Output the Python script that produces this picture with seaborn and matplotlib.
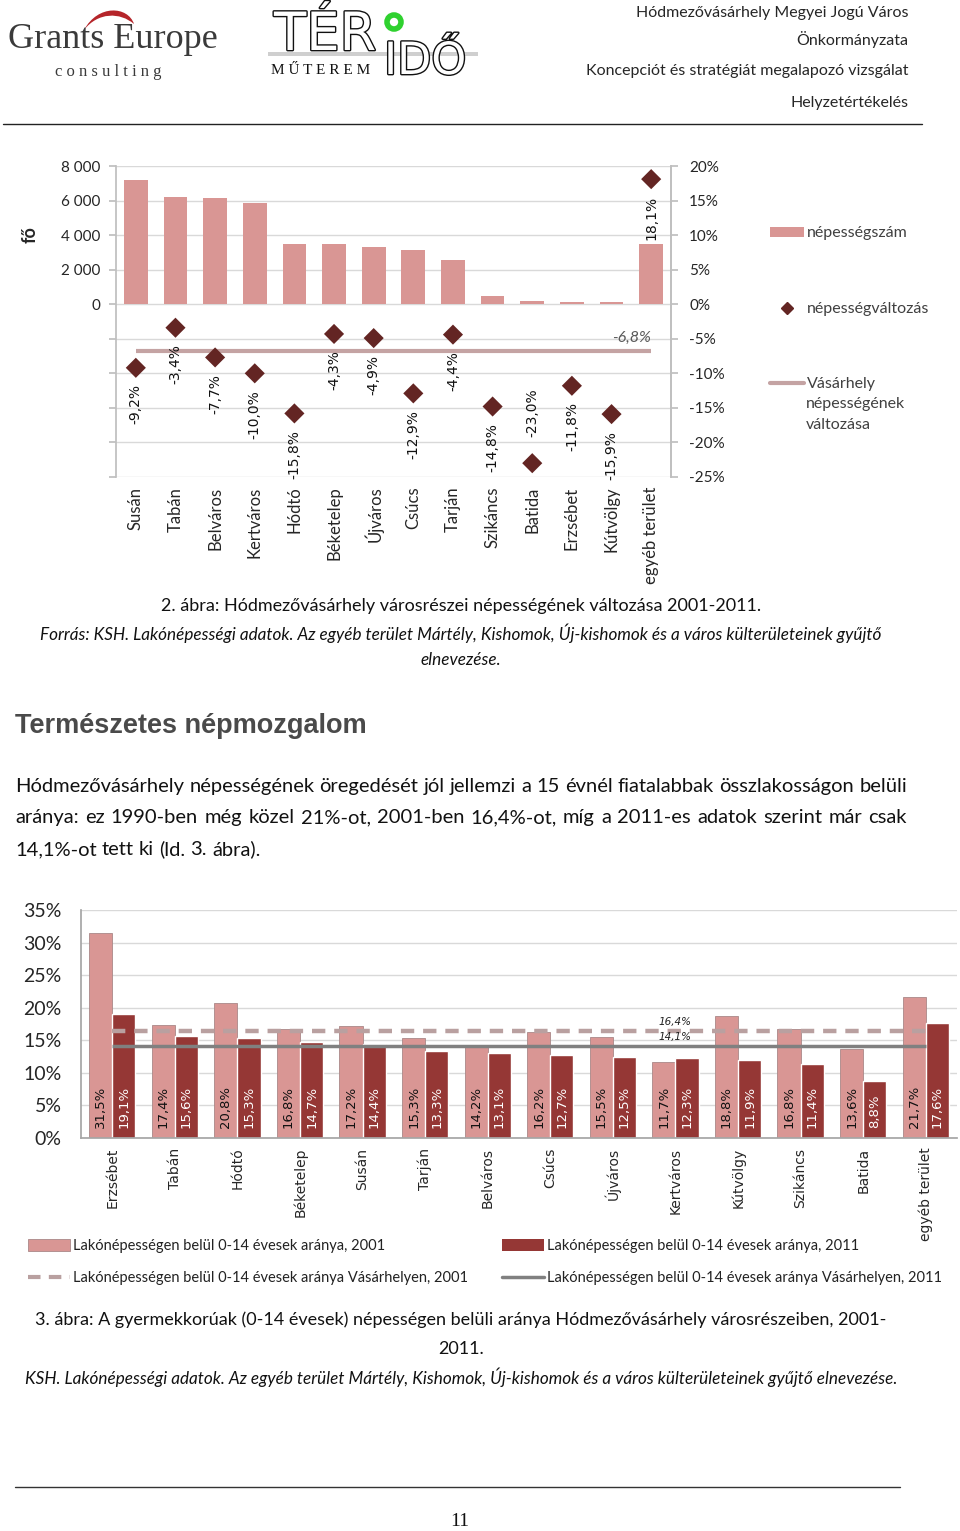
import numpy as np
import pandas as pd
import matplotlib
matplotlib.use("Agg")
import matplotlib.pyplot as plt
import seaborn as sns
import matplotlib.patheffects as pe
from matplotlib.lines import Line2D
from matplotlib.patches import Patch, Ellipse, PathPatch, Rectangle
from matplotlib.path import Path

# ---- data: figure 2 (population and change 2001-2011) ----
districts_1 = ["Susán", "Tabán", "Belváros", "Kertváros", "Hódtó", "Béketelep", "Újváros",
               "Csúcs", "Tarján", "Szikáncs", "Batida", "Erzsébet", "Kútvölgy", "egyéb terület"]
population = [7190, 6200, 6145, 5860, 3480, 3480, 3300, 3130, 2550, 470, 175, 115, 125, 3480]
change_pct = [-9.2, -3.4, -7.7, -10.0, -15.8, -4.3, -4.9, -12.9, -4.4, -14.8, -23.0, -11.8, -15.9, 18.1]
city_change = -6.8

# ---- data: figure 3 (share of 0-14 year olds) ----
districts_2 = ["Erzsébet", "Tabán", "Hódtó", "Béketelep", "Susán", "Tarján", "Belváros", "Csúcs",
               "Újváros", "Kertváros", "Kútvölgy", "Szikáncs", "Batida", "egyéb terület"]
share_2001 = [31.5, 17.4, 20.8, 16.8, 17.2, 15.3, 14.2, 16.2, 15.5, 11.7, 18.8, 16.8, 13.6, 21.7]
share_2011 = [19.1, 15.6, 15.3, 14.7, 14.4, 13.3, 13.1, 12.7, 12.5, 12.3, 11.9, 11.4, 8.8, 17.6]
city_2001 = 16.4
city_2011 = 14.1

W, H = 960, 1531
PINK = "#D99694"
DARK = "#953735"
DIAMOND = "#632523"
GRID = "#D9D9D9"
AXC = "#BFBFBF"
TXT = "#262626"
AVG = "#C4A3A3"
BODY = "Lato"

sns.set_theme(style="white")
plt.rcParams["font.family"] = [BODY, "DejaVu Sans"]


def fx(x):
    return x / W


def fy(y):
    return 1 - y / H


def rect(l, t, r, b):
    return [fx(l), fy(b), (r - l) / W, (b - t) / H]


def pct(v):
    return f"{v:.1f}".replace(".", ",") + "%"


fig = plt.figure(figsize=(W / 100, H / 100), dpi=100)
fig.patch.set_facecolor("white")

# ---------------- header ----------------
fig.text(fx(8), fy(40), "Grants Europe", family="Liberation Serif", size=26, color="#3a3a3a",
         va="center", ha="left")
fig.text(fx(55), fy(72), "c o n s u l t i n g", family="Liberation Serif", size=12, color="#3a3a3a",
         va="center", ha="left")
verts = [(84, 30), (98, 4), (128, 6), (134, 24), (120, 12), (98, 12), (84, 30)]
codes = [Path.MOVETO, Path.CURVE4, Path.CURVE4, Path.CURVE4, Path.CURVE4, Path.CURVE4, Path.CURVE4]
swoosh = Path([(fx(a), fy(b)) for a, b in verts], codes)
fig.patches.append(PathPatch(swoosh, facecolor="#B5252A", edgecolor="none", transform=fig.transFigure))

fig.patches.append(Rectangle((fx(268), fy(56)), fx(210), 4 / H, facecolor="#CFCFCF",
                             edgecolor="none", transform=fig.transFigure))
outline = [pe.withStroke(linewidth=2.0, foreground="#111111")]
fig.text(fx(274), fy(50), "TÉR", family="DejaVu Sans", size=38, color="white", va="baseline",
         ha="left", path_effects=outline)
fig.text(fx(384), fy(74), "IDŐ", family="DejaVu Sans", size=32, color="white", va="baseline",
         ha="left", path_effects=outline)
fig.text(fx(271), fy(74), "M Ű T E R E M", family="Liberation Serif", size=11, color="#111111",
         va="baseline", ha="left")
fig.patches.append(Ellipse((fx(394), fy(22)), 14 / W, 14 / H, facecolor="white",
                           edgecolor="#2FD12F", lw=4, transform=fig.transFigure))

hdr = dict(size=11.5, color=TXT, ha="right", va="center")
fig.text(fx(908), fy(13), "Hódmezővásárhely Megyei Jogú Város", **hdr)
fig.text(fx(908), fy(39), "Önkormányzata", **hdr)
fig.text(fx(908), fy(71), "Koncepciót és stratégiát megalapozó vizsgálat", **hdr)
fig.text(fx(908), fy(103), "Helyzetértékelés", **hdr)
fig.add_artist(Line2D([fx(3), fx(922)], [fy(124), fy(124)], color="#222222", lw=1))

# ---------------- chart 1 ----------------
ax = fig.add_axes(rect(116, 166, 671, 477))
df1 = pd.DataFrame({"district": districts_1, "population": population, "change": change_pct})
sns.barplot(data=df1, x="district", y="population", color=PINK, width=0.6, ax=ax,
            saturation=1, edgecolor="none")
ax.set_ylim(-10000, 8000)
ax.set_yticks(np.arange(-10000, 8001, 2000))
ax.set_yticklabels([f"{int(v):,}".replace(",", " ") if v >= 0 else "" for v in ax.get_yticks()])
ax.set_axisbelow(True)
ax.grid(axis="y", color=GRID, lw=1)
ax.set_xlabel("")
ax.set_ylabel("fő", fontweight="bold", size=13, color=TXT)
ax.yaxis.set_label_coords(-0.14, 0.778)
for s in ["top", "bottom"]:
    ax.spines[s].set_visible(False)
for s in ["left", "right"]:
    ax.spines[s].set_color(AXC)
ax.tick_params(axis="y", length=5, color=AXC, labelsize=11, labelcolor=TXT, pad=6)
ax.tick_params(axis="x", length=0, labelsize=12, labelcolor=TXT, pad=7, labelrotation=90)

ax2 = ax.twinx()
ax2.set_ylim(-25, 20)
ax2.set_yticks(np.arange(-25, 21, 5))
ax2.set_yticklabels([f"{v}%" for v in range(-25, 21, 5)])
ax2.tick_params(axis="y", length=5, color=AXC, labelsize=11, labelcolor=TXT, pad=8)
for s in ["top", "bottom", "left"]:
    ax2.spines[s].set_visible(False)
ax2.spines["right"].set_color(AXC)
ax2.hlines(city_change, 0, len(districts_1) - 1, color=AVG, lw=3)
sns.scatterplot(x=df1.index, y=df1["change"], marker="D", s=105, color=DIAMOND,
                edgecolor="none", ax=ax2, zorder=4)
ax2.set_ylabel("")
for i, v in enumerate(change_pct):
    if v < -20:
        ax2.annotate(pct(v), (i, v), xytext=(0, 19), textcoords="offset points", rotation=90,
                     ha="center", va="bottom", family="DejaVu Sans", size=10, color="#111111")
    else:
        ax2.annotate(pct(v), (i, v), xytext=(0, -12), textcoords="offset points", rotation=90,
                     ha="center", va="top", family="DejaVu Sans", size=10, color="#111111")
ax2.text(12.5, -4.8, pct(city_change), style="italic", size=11.5, color="#595959",
         ha="center", va="center")
ax.set_xlim(-0.5, len(districts_1) - 0.5)

h1 = [Patch(facecolor=PINK, edgecolor="none"),
      Line2D([], [], marker="D", ls="none", color=DIAMOND, markersize=6),
      Line2D([], [], color=AVG, lw=3)]
l1 = ["népességszám", "népességváltozás", "Vásárhely"]
fig.legend(h1, l1, loc="upper left", bbox_to_anchor=(fx(756), fy(212)), frameon=False,
           fontsize=11.5, labelcolor="#404040", handlelength=2.1, handleheight=0.6,
           handletextpad=0.2, labelspacing=3.85)
fig.text(fx(806), fy(404), "népességének", size=11.5, color="#404040", ha="left", va="center")
fig.text(fx(806), fy(425), "változása", size=11.5, color="#404040", ha="left", va="center")

# captions under chart 1
fig.text(fx(461), fy(606), "2. ábra: Hódmezővásárhely városrészei népességének változása 2001-2011.",
         ha="center", va="center", size=13, color="#111111")
fig.text(fx(461), fy(633), "Forrás: KSH. Lakónépességi adatok. Az egyéb terület Mártély, Kishomok, "
         "Új-kishomok és a város külterületeinek gyűjtő", ha="center", va="center", size=12.3,
         style="italic", color="#111111")
fig.text(fx(461), fy(660), "elnevezése.", ha="center", va="center", size=12.3, style="italic",
         color="#111111")

# ---------------- heading and paragraph ----------------
fig.text(fx(15), fy(726), "Természetes népmozgalom", family="Liberation Sans", weight="bold",
         size=19.5, color="#4a4a4a", ha="left", va="center")

para = ["Hódmezővásárhely népességének öregedését jól jellemzi a 15 évnél fiatalabbak összlakosságon belüli",
        "aránya: ez 1990-ben még közel 21%-ot, 2001-ben 16,4%-ot, míg a 2011-es adatok szerint már csak",
        "14,1%-ot tett ki (ld. 3. ábra)."]
renderer = fig.canvas.get_renderer()
space_w = fig.text(0, 0, " ", size=14.5).get_window_extent(renderer).width
for k, (line, y) in enumerate(zip(para, [792, 823, 855])):
    words = line.split(" ")
    texts = [fig.text(0, fy(y), w, size=14.5, color="#111111", ha="left", va="baseline") for w in words]
    widths = [t.get_window_extent(renderer).width for t in texts]
    if k < 2:
        gap = (907 - 15 - sum(widths)) / (len(words) - 1)
    else:
        gap = space_w
    x = 15
    for t, w in zip(texts, widths):
        t.set_x(fx(x))
        x += w + gap

# ---------------- chart 2 ----------------
bx = fig.add_axes(rect(81, 910, 957, 1138))
df2 = pd.DataFrame({"district": districts_2 * 2,
                    "share": share_2001 + share_2011,
                    "year": ["2001"] * len(districts_2) + ["2011"] * len(districts_2)})
sns.barplot(data=df2, x="district", y="share", hue="year", palette=[PINK, DARK], width=0.74,
            saturation=1, ax=bx, legend=False)
for bar in bx.containers[0]:
    bar.set_edgecolor("#A88")
    bar.set_linewidth(0.6)
bx.set_ylim(0, 35)
bx.set_yticks(np.arange(0, 36, 5))
bx.set_yticklabels([f"{v}%" for v in range(0, 36, 5)])
bx.set_axisbelow(True)
bx.grid(axis="y", color=GRID, lw=1)
bx.set_xlim(-0.5, len(districts_2) - 0.5)
bx.set_xlabel("")
bx.set_ylabel("")
for s in ["top", "right"]:
    bx.spines[s].set_visible(False)
for s in ["left", "bottom"]:
    bx.spines[s].set_color("#A6A6A6")
bx.tick_params(axis="y", length=0, labelsize=14, labelcolor=TXT, pad=14)
bx.tick_params(axis="x", length=0, pad=7, labelrotation=90)
for t in bx.get_xticklabels():
    t.set_family("DejaVu Sans")
    t.set_fontsize(10)
    t.set_color(TXT)
# category separator ticks
bx.set_xticks(np.arange(-0.5, len(districts_2), 1), minor=True)
bx.tick_params(axis="x", which="minor", length=6, color="#A6A6A6")

bx.hlines(city_2001, 0, len(districts_2) - 1, color="#B9A0A0", lw=3.2, ls=(0, (3, 2)), zorder=3)
bx.hlines(city_2011, 0, len(districts_2) - 1, color="#808080", lw=2.5, zorder=3)
bx.annotate(pct(city_2001), (9, city_2001), xytext=(0, 3), textcoords="offset points",
            ha="center", va="bottom", family="DejaVu Sans", style="italic", size=7.5, color="#222")
bx.annotate(pct(city_2011), (9, city_2011), xytext=(0, 3), textcoords="offset points",
            ha="center", va="bottom", family="DejaVu Sans", style="italic", size=7.5, color="#222")

for cont, vals, col in [(bx.containers[0], share_2001, "#111111"), (bx.containers[1], share_2011, "white")]:
    for bar, v in zip(cont, vals):
        bx.annotate(pct(v), (bar.get_x() + bar.get_width() / 2, 0), xytext=(0, 7),
                    textcoords="offset points", rotation=90, ha="center", va="bottom",
                    family="DejaVu Sans", size=9.5, color=col, zorder=5)

h2 = [Patch(facecolor=PINK, edgecolor="#A88", lw=0.6),
      Line2D([], [], color="#B9A0A0", lw=3, ls=(0, (3, 2))),
      Patch(facecolor=DARK, edgecolor="none"),
      Line2D([], [], color="#808080", lw=2.5)]
l2 = ["Lakónépességen belül 0-14 évesek aránya, 2001",
      "Lakónépességen belül 0-14 évesek aránya Vásárhelyen, 2001",
      "Lakónépességen belül 0-14 évesek aránya, 2011",
      "Lakónépességen belül 0-14 évesek aránya Vásárhelyen, 2011"]
fig.legend(h2, l2, ncol=2, loc="upper left", bbox_to_anchor=(fx(15), fy(1226)), frameon=False,
           fontsize=10.5, labelcolor="#222222", handlelength=2.9, handleheight=0.8,
           handletextpad=0.2, columnspacing=2.3, labelspacing=1.25)

fig.text(fx(461), fy(1320), "3. ábra: A gyermekkorúak (0-14 évesek) népességen belüli aránya "
         "Hódmezővásárhely városrészeiben, 2001-", ha="center", va="center", size=13, color="#111111")
fig.text(fx(461), fy(1349), "2011.", ha="center", va="center", size=13, color="#111111")
fig.text(fx(461), fy(1377), "KSH. Lakónépességi adatok. Az egyéb terület Mártély, Kishomok, "
         "Új-kishomok és a város külterületeinek gyűjtő elnevezése.", ha="center", va="center",
         size=12.3, style="italic", color="#111111")

# ---------------- footer ----------------
fig.add_artist(Line2D([fx(15), fx(900)], [fy(1487), fy(1487)], color="#333333", lw=1))
fig.text(fx(460), fy(1522), "11", family="Liberation Serif", size=14, color="#111111",
         ha="center", va="center")

fig.savefig("out.png", dpi=100)
